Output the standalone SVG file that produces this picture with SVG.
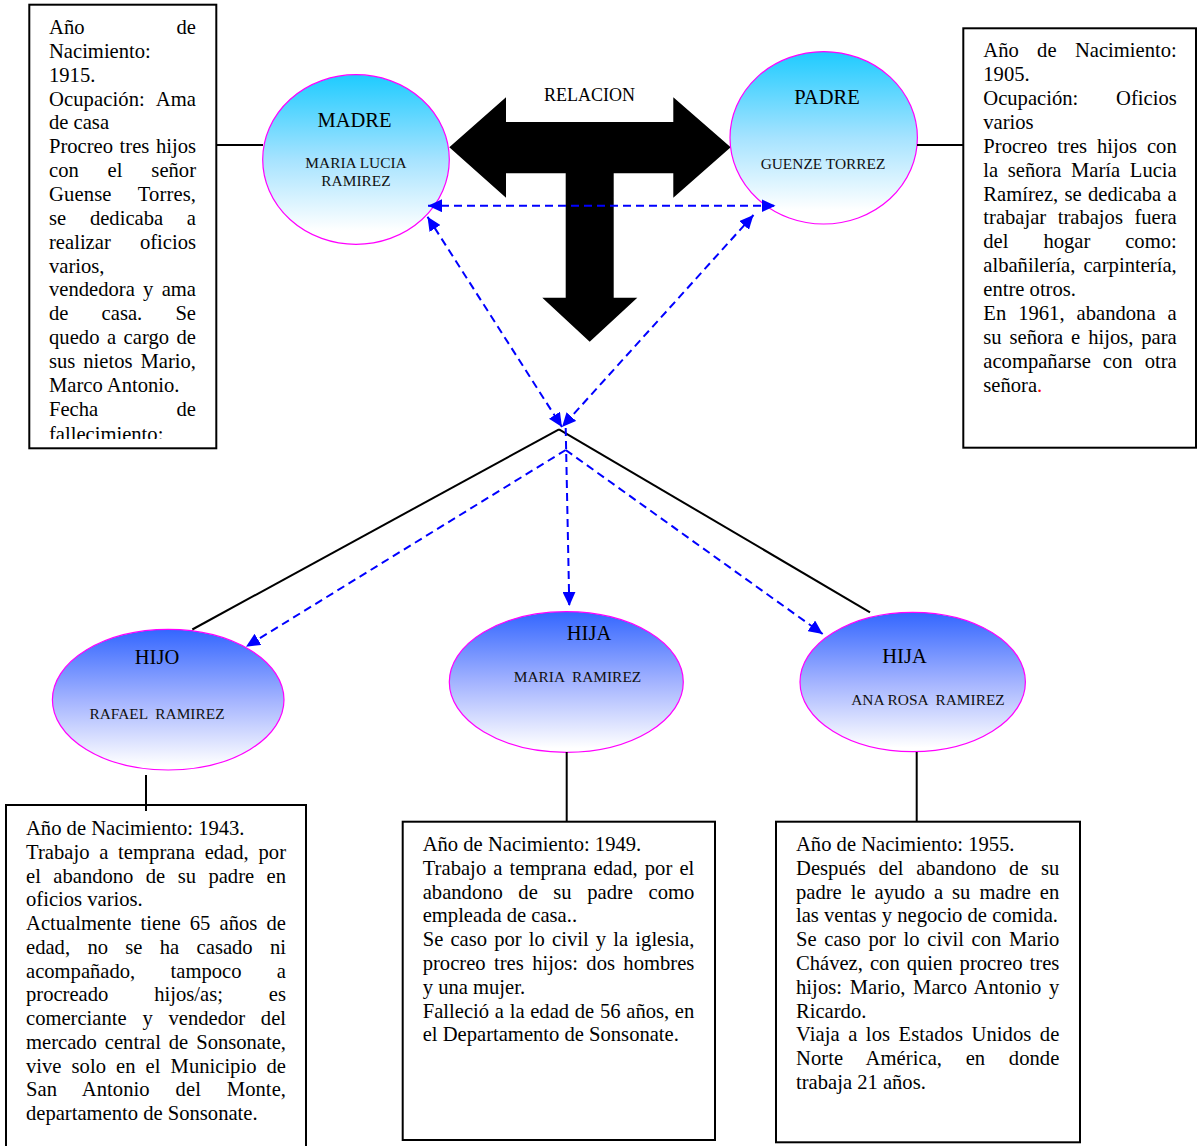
<svg xmlns="http://www.w3.org/2000/svg" width="1197" height="1146" viewBox="0 0 1197 1146">
<style>
.t{font-family:"Liberation Serif","Times New Roman",serif;font-size:20.6px;fill:#000}
.ti{font-family:"Liberation Serif","Times New Roman",serif;font-size:20.5px;fill:#000;text-anchor:middle}
.st{font-family:"Liberation Serif","Times New Roman",serif;font-size:15.4px;fill:#111;text-anchor:middle}
.box{fill:#fff;stroke:#000;stroke-width:2}
.ell{stroke:#FF00FF;stroke-width:1.2}
.ln{stroke:#000;stroke-width:2;fill:none}
.dash{stroke:#0000FF;stroke-width:2;stroke-dasharray:8 5;fill:none}
</style>
<defs>
<linearGradient id="gCyan" x1="0" y1="0" x2="0" y2="1">
<stop offset="0" stop-color="#1ECBFF"/>
<stop offset="0.5" stop-color="#A6E3FF"/>
<stop offset="0.92" stop-color="#FFFFFF"/>
</linearGradient>
<linearGradient id="gBlue" x1="0" y1="0" x2="0" y2="1">
<stop offset="0" stop-color="#3366FF"/>
<stop offset="0.5" stop-color="#A3B3FF"/>
<stop offset="0.97" stop-color="#FFFFFF"/>
</linearGradient>
<marker id="ah" viewBox="0 0 14 13" refX="14" refY="6.5" markerWidth="14" markerHeight="13" markerUnits="userSpaceOnUse" orient="auto-start-reverse">
<path d="M0,0 L14,6.5 L0,13 z" fill="#0000FF"/>
</marker>
<clipPath id="clipMadreBox"><rect x="29" y="5" width="187" height="434"/></clipPath>
</defs>
<rect width="1197" height="1146" fill="#fff"/>

<g id="box-madre">
<rect class="box" x="29.3" y="4.7" width="187" height="443.6"/>
<g clip-path="url(#clipMadreBox)">
<text class="t" x="49" y="34" style="word-spacing:86.9px" textLength="147" lengthAdjust="spacing">Año de</text>
<text class="t" x="49" y="57.85">Nacimiento:</text>
<text class="t" x="49" y="81.7">1915.</text>
<text class="t" x="49" y="105.55" style="word-spacing:6.8px" textLength="147" lengthAdjust="spacing">Ocupación: Ama</text>
<text class="t" x="49" y="129.4">de casa</text>
<text class="t" x="49" y="153.25" style="word-spacing:1.4px" textLength="147" lengthAdjust="spacing">Procreo tres hijos</text>
<text class="t" x="49" y="177.1" style="word-spacing:23.7px" textLength="147" lengthAdjust="spacing">con el señor</text>
<text class="t" x="49" y="200.95" style="word-spacing:21.2px" textLength="147" lengthAdjust="spacing">Guense Torres,</text>
<text class="t" x="49" y="224.8" style="word-spacing:18.6px" textLength="147" lengthAdjust="spacing">se dedicaba a</text>
<text class="t" x="49" y="248.65" style="word-spacing:24px" textLength="147" lengthAdjust="spacing">realizar oficios</text>
<text class="t" x="49" y="272.5">varios,</text>
<text class="t" x="49" y="296.35" style="word-spacing:3.15px" textLength="147" lengthAdjust="spacing">vendedora y ama</text>
<text class="t" x="49" y="320.2" style="word-spacing:28px" textLength="147" lengthAdjust="spacing">de casa. Se</text>
<text class="t" x="49" y="344.05" style="word-spacing:2.3px" textLength="147" lengthAdjust="spacing">quedo a cargo de</text>
<text class="t" x="49" y="367.9" style="word-spacing:2.85px" textLength="147" lengthAdjust="spacing">sus nietos Mario,</text>
<text class="t" x="49" y="391.75">Marco Antonio.</text>
<text class="t" x="49" y="415.6" style="word-spacing:73.2px" textLength="147" lengthAdjust="spacing">Fecha de</text>
<text class="t" x="49" y="440.5">fallecimiento:</text>
</g>
</g>

<g id="box-padre">
<rect class="box" x="963.3" y="28.3" width="232.7" height="419.4"/>
<text class="t" x="983.3" y="56.7" style="word-spacing:13.2px" textLength="193.4" lengthAdjust="spacing">Año de Nacimiento:</text>
<text class="t" x="983.3" y="80.67">1905.</text>
<text class="t" x="983.3" y="104.64" style="word-spacing:32.6px" textLength="193.4" lengthAdjust="spacing">Ocupación: Oficios</text>
<text class="t" x="983.3" y="128.61">varios</text>
<text class="t" x="983.3" y="152.58" style="word-spacing:4.77px" textLength="193.4" lengthAdjust="spacing">Procreo tres hijos con</text>
<text class="t" x="983.3" y="176.55" style="word-spacing:4.4px" textLength="193.4" lengthAdjust="spacing">la señora María Lucia</text>
<text class="t" x="983.3" y="200.52" style="word-spacing:1.17px" textLength="193.4" lengthAdjust="spacing">Ramírez, se dedicaba a</text>
<text class="t" x="983.3" y="224.49" style="word-spacing:6.35px" textLength="193.4" lengthAdjust="spacing">trabajar trabajos fuera</text>
<text class="t" x="983.3" y="248.46" style="word-spacing:29.8px" textLength="193.4" lengthAdjust="spacing">del hogar como:</text>
<text class="t" x="983.3" y="272.43" style="word-spacing:2.9px" textLength="193.4" lengthAdjust="spacing">albañilería, carpintería,</text>
<text class="t" x="983.3" y="296.4">entre otros.</text>
<text class="t" x="983.3" y="320.37" style="word-spacing:6.87px" textLength="193.4" lengthAdjust="spacing">En 1961, abandona a</text>
<text class="t" x="983.3" y="344.34" style="word-spacing:2.72px" textLength="193.4" lengthAdjust="spacing">su señora e hijos, para</text>
<text class="t" x="983.3" y="368.31" style="word-spacing:6.9px" textLength="193.4" lengthAdjust="spacing">acompañarse con otra</text>
<text class="t" x="983.3" y="392.28">señora<tspan fill="#FF0000">.</tspan></text>
</g>

<g id="box-hijo">
<rect class="box" x="6" y="805" width="300" height="360"/>
<text class="t" x="26" y="835">Año de Nacimiento: 1943.</text>
<text class="t" x="26" y="858.75" style="word-spacing:4.5px" textLength="260" lengthAdjust="spacing">Trabajo a temprana edad, por</text>
<text class="t" x="26" y="882.5" style="word-spacing:7.26px" textLength="260" lengthAdjust="spacing">el abandono de su padre en</text>
<text class="t" x="26" y="906.25">oficios varios.</text>
<text class="t" x="26" y="930" style="word-spacing:4.07px" textLength="260" lengthAdjust="spacing">Actualmente tiene 65 años de</text>
<text class="t" x="26" y="953.75" style="word-spacing:12.18px" textLength="260" lengthAdjust="spacing">edad, no se ha casado ni</text>
<text class="t" x="26" y="977.5" style="word-spacing:30.2px" textLength="260" lengthAdjust="spacing">acompañado, tampoco a</text>
<text class="t" x="26" y="1001.25" style="word-spacing:40.7px" textLength="260" lengthAdjust="spacing">procreado hijos/as; es</text>
<text class="t" x="26" y="1025" style="word-spacing:10.6px" textLength="260" lengthAdjust="spacing">comerciante y vendedor del</text>
<text class="t" x="26" y="1048.75" style="word-spacing:2.77px" textLength="260" lengthAdjust="spacing">mercado central de Sonsonate,</text>
<text class="t" x="26" y="1072.5" style="word-spacing:4.96px" textLength="260" lengthAdjust="spacing">vive solo en el Municipio de</text>
<text class="t" x="26" y="1096.25" style="word-spacing:20.7px" textLength="260" lengthAdjust="spacing">San Antonio del Monte,</text>
<text class="t" x="26" y="1120">departamento de Sonsonate.</text>
</g>

<g id="box-hija-maria">
<rect class="box" x="402.7" y="821.7" width="312.3" height="318.3"/>
<text class="t" x="422.7" y="851">Año de Nacimiento: 1949.</text>
<text class="t" x="422.7" y="874.8" style="word-spacing:1.92px" textLength="271.6" lengthAdjust="spacing">Trabajo a temprana edad, por el</text>
<text class="t" x="422.7" y="898.6" style="word-spacing:10.4px" textLength="271.6" lengthAdjust="spacing">abandono de su padre como</text>
<text class="t" x="422.7" y="922.4">empleada de casa..</text>
<text class="t" x="422.7" y="946.2" style="word-spacing:2.01px" textLength="271.6" lengthAdjust="spacing">Se caso por lo civil y la iglesia,</text>
<text class="t" x="422.7" y="970" style="word-spacing:3.25px" textLength="271.6" lengthAdjust="spacing">procreo tres hijos: dos hombres</text>
<text class="t" x="422.7" y="993.8">y una mujer.</text>
<text class="t" x="422.7" y="1017.6" style="word-spacing:0.55px" textLength="271.6" lengthAdjust="spacing">Falleció a la edad de 56 años, en</text>
<text class="t" x="422.7" y="1041.4">el Departamento de Sonsonate.</text>
</g>

<g id="box-hija-ana">
<rect class="box" x="776" y="821.7" width="304" height="320.6"/>
<text class="t" x="796" y="851">Año de Nacimiento: 1955.</text>
<text class="t" x="796" y="874.8" style="word-spacing:7.47px" textLength="263.3" lengthAdjust="spacing">Después del abandono de su</text>
<text class="t" x="796" y="898.6" style="word-spacing:3.83px" textLength="263.3" lengthAdjust="spacing">padre le ayudo a su madre en</text>
<text class="t" x="796" y="922.4">las ventas y negocio de comida.</text>
<text class="t" x="796" y="946.2" style="word-spacing:2.5px" textLength="263.3" lengthAdjust="spacing">Se caso por lo civil con Mario</text>
<text class="t" x="796" y="970" style="word-spacing:1.9px" textLength="263.3" lengthAdjust="spacing">Chávez, con quien procreo tres</text>
<text class="t" x="796" y="993.8" style="word-spacing:2.45px" textLength="263.3" lengthAdjust="spacing">hijos: Mario, Marco Antonio y</text>
<text class="t" x="796" y="1017.6">Ricardo.</text>
<text class="t" x="796" y="1041.4" style="word-spacing:3.34px" textLength="263.3" lengthAdjust="spacing">Viaja a los Estados Unidos de</text>
<text class="t" x="796" y="1065.2" style="word-spacing:18.4px" textLength="263.3" lengthAdjust="spacing">Norte América, en donde</text>
<text class="t" x="796" y="1089">trabaja 21 años.</text>
</g>

<g id="node-relacion">
<polygon fill="#000" points="449.3,147.3 506,97.3 506,122 673.3,122 673.3,97.3 730.7,147.3 673.3,197.7 673.3,173.3 613.7,173.3 613.7,297.7 637.3,297.7 589.7,341.7 542.3,297.7 565.7,297.7 565.7,173.3 506,173.3 506,197.7"/>
<text x="589.5" y="101" style="font-family:'Liberation Serif','Times New Roman',serif;font-size:18px;text-anchor:middle">RELACION</text>
</g>

<g id="node-madre">
<ellipse class="ell" cx="356" cy="159.5" rx="93.3" ry="84.8" fill="url(#gCyan)"/>
<text class="ti" x="354.5" y="127">MADRE</text>
<text class="st" x="356" y="167.7">MARIA LUCIA</text>
<text class="st" x="356" y="186">RAMIREZ</text>
</g>

<g id="node-padre">
<ellipse class="ell" cx="823.7" cy="137.8" rx="93.7" ry="86.2" fill="url(#gCyan)"/>
<text class="ti" x="827" y="104">PADRE</text>
<text class="st" x="823" y="169">GUENZE TORREZ</text>
</g>

<g id="node-hijo">
<ellipse class="ell" cx="168.2" cy="699.7" rx="115.8" ry="70.3" fill="url(#gBlue)"/>
<text class="ti" x="157" y="664">HIJO</text>
<text class="st" x="157" y="719" xml:space="preserve">RAFAEL  RAMIREZ</text>
</g>

<g id="node-hija-maria">
<ellipse class="ell" cx="566.3" cy="682" rx="117" ry="70.3" fill="url(#gBlue)"/>
<text class="ti" x="589" y="640">HIJA</text>
<text class="st" x="577.5" y="681.7" xml:space="preserve">MARIA  RAMIREZ</text>
</g>

<g id="node-hija-ana">
<ellipse class="ell" cx="912.7" cy="682" rx="112.7" ry="69.7" fill="url(#gBlue)"/>
<text class="ti" x="904.5" y="663.3">HIJA</text>
<text class="st" x="928" y="705" xml:space="preserve">ANA ROSA  RAMIREZ</text>
</g>

<g id="connectors">
<line class="ln" x1="216" y1="145" x2="263" y2="145"/>
<line class="ln" x1="917" y1="145" x2="963" y2="145"/>
<line class="ln" x1="559" y1="429.3" x2="192.3" y2="629.5"/>
<line class="ln" x1="559" y1="429.3" x2="870" y2="612.3"/>
<line class="ln" x1="146" y1="775" x2="146" y2="811"/>
<line class="ln" x1="566.7" y1="752" x2="566.7" y2="822"/>
<line class="ln" x1="916.7" y1="752" x2="916.7" y2="822"/>
<line class="dash" x1="428" y1="205.7" x2="775.5" y2="205.7" marker-start="url(#ah)" marker-end="url(#ah)"/>
<line class="dash" x1="427.5" y1="216.7" x2="562" y2="427" marker-start="url(#ah)" marker-end="url(#ah)"/>
<line class="dash" x1="753.5" y1="215" x2="562" y2="427" marker-start="url(#ah)" marker-end="url(#ah)"/>
<line class="dash" x1="565.7" y1="428" x2="569.3" y2="606" marker-end="url(#ah)"/>
<line class="dash" x1="565.7" y1="450" x2="246" y2="646.7" marker-end="url(#ah)"/>
<line class="dash" x1="565.7" y1="450" x2="822.7" y2="634" marker-end="url(#ah)"/>
</g>
</svg>
